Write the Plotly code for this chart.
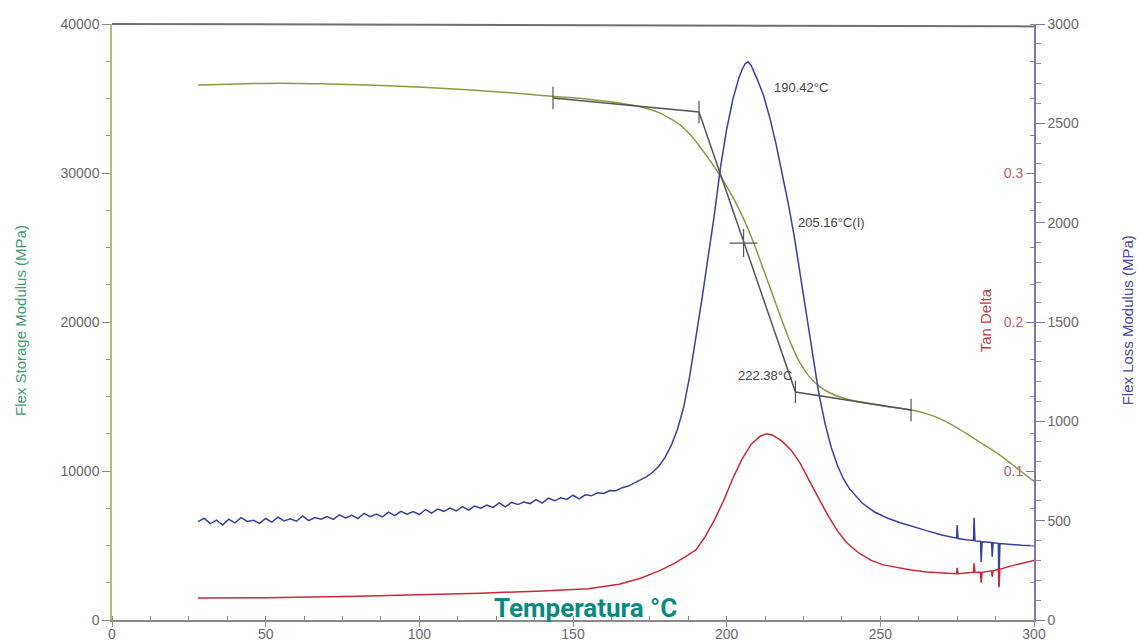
import plotly.graph_objects as go

# ---------------- data ----------------
storage_x = [28, 40, 55, 70, 90, 110, 130, 143, 155, 165, 172, 178, 182, 185, 188, 191, 194,
             197, 200, 203, 206, 209, 212, 215, 218, 221, 224, 227, 230, 234, 240, 250, 260,
             265, 270, 275, 280, 285, 290, 295, 300]
storage_y = [35900, 35980, 36030, 35980, 35850, 35650, 35380, 35150, 34950, 34700, 34450,
             34050, 33600, 33200, 32600, 31850, 31000, 30100, 29100, 28000, 26700, 25200,
             23500, 21800, 20100, 18500, 17200, 16300, 15700, 15200, 14780, 14400, 14100,
             13850, 13450, 12900, 12250, 11600, 10900, 10100, 9300]

loss_x = [28, 30, 32, 34, 36, 38, 40, 42, 44, 46, 48, 50, 52, 54, 56, 58, 60, 62, 64, 66, 68,
          70, 72, 74, 76, 78, 80, 82, 84, 86, 88, 90, 92, 94, 96, 98, 100, 102, 104, 106, 108,
          110, 112, 114, 116, 118, 120, 122, 124, 126, 128, 130, 132, 134, 136, 138, 140, 142,
          144, 146, 148, 150, 152, 154, 156, 158, 160, 162, 164, 166, 168, 170, 172, 174, 176,
          178, 180, 182, 184, 186, 188, 190, 192, 194, 196, 198, 200, 202, 204, 205, 206, 207,
          208, 210, 212, 214, 216, 218, 220, 222, 224, 226, 228, 230, 232, 234, 236, 238, 240,
          244, 248, 252, 256, 260, 265, 270, 274.8, 275, 275.3, 278, 280.3, 280.5, 280.8,
          282.6, 282.8, 283.1, 286.2, 286.4, 286.7, 288.4, 288.6, 288.9, 292, 296, 300]
loss_y = [495, 512, 485, 503, 478, 507, 489, 515, 496, 502, 486, 511, 493, 518, 499, 509, 497,
          524, 500, 516, 507, 521, 506, 529, 514, 527, 511, 537, 520, 533, 519, 543, 525, 547,
          533, 546, 531, 556, 538, 558, 547, 563, 549, 571, 553, 574, 563, 578, 567, 589, 569,
          592, 581, 594, 586, 606, 588, 613, 600, 615, 607, 628, 610, 630, 625, 640, 637, 652,
          651, 666, 674, 690, 705, 722, 745, 775, 820, 880, 960, 1070, 1230, 1420, 1620, 1830,
          2040, 2280, 2470, 2620, 2730, 2770, 2800, 2810, 2790, 2720, 2640, 2530, 2400, 2250,
          2100, 1930, 1730, 1520, 1320, 1140, 990, 870, 780, 710, 660, 590, 545, 515, 492, 475,
          450, 428, 412, 478, 410, 404, 400, 515, 398, 395, 292, 394, 390, 318, 389, 386, 170,
          385, 380, 376, 374]

tan_x = [28, 50, 80, 100, 120, 140, 155, 165, 172, 178, 183, 187, 190, 193, 196, 199, 202, 205,
         208, 211, 213, 215, 218, 221, 224, 227, 230, 233, 236, 239, 243, 247, 251, 256, 260,
         265, 270, 274.8, 275, 275.3, 280.3, 280.5, 280.8, 282.6, 282.8, 283.1, 286.2, 286.4,
         286.7, 288.4, 288.6, 288.9, 292, 296, 300]
tan_y = [0.0148, 0.0150, 0.0160, 0.0168, 0.0180, 0.0195, 0.021, 0.024, 0.028, 0.033, 0.038,
         0.043, 0.047, 0.056, 0.067, 0.080, 0.095, 0.108, 0.118, 0.1235, 0.125, 0.124, 0.120,
         0.114, 0.105, 0.093, 0.081, 0.070, 0.060, 0.052, 0.045, 0.040, 0.037, 0.035, 0.0335,
         0.0322, 0.0315, 0.031, 0.035, 0.031, 0.032, 0.038, 0.032, 0.032, 0.025, 0.032, 0.033,
         0.029, 0.033, 0.034, 0.022, 0.034, 0.036, 0.038, 0.040]

# onset / tangent construction on the storage curve
tangent_x = [143.5, 191, 222.38, 260]
tangent_y = [35030, 34090, 15300, 14090]
inflect_x = [205.5]
inflect_y = [25300]

label_texts = ["190.42°C", "205.16°C(I)", "222.38°C"]
label_x = [214.8, 222.6, 222.0]
label_y = [35750, 26650, 16400]

x_ticks = [0, 50, 100, 150, 200, 250, 300]
storage_ticks = [0, 10000, 20000, 30000, 40000]
loss_ticks = [0, 500, 1000, 1500, 2000, 2500, 3000]
tan_ticks = [0.1, 0.2, 0.3]

# ---------------- styling ----------------
GREEN = "#8a9a45"
BLUE = "#3a3f9e"
RED = "#c8283a"
GRAY_TXT = "#6a6a6a"
FONT = "Liberation Sans, Arial, sans-serif"

fig = go.Figure()

fig.add_trace(go.Scatter(x=storage_x, y=storage_y, mode="lines",
                         line=dict(color=GREEN, width=1.5, shape="spline"),
                         yaxis="y", showlegend=False))
fig.add_trace(go.Scatter(x=tangent_x, y=tangent_y, mode="lines+markers",
                         line=dict(color="#555555", width=1.5),
                         marker=dict(symbol="line-ns-open", size=16, color="#555555",
                                     line=dict(color="#555555", width=1.2)),
                         yaxis="y", showlegend=False))
fig.add_trace(go.Scatter(x=inflect_x, y=inflect_y, mode="markers",
                         marker=dict(symbol="cross-thin-open", size=20, color="#555555",
                                     line=dict(color="#555555", width=1.2)),
                         yaxis="y", showlegend=False))
fig.add_trace(go.Scatter(x=loss_x, y=loss_y, mode="lines",
                         line=dict(color=BLUE, width=1.5),
                         yaxis="y2", showlegend=False))
fig.add_trace(go.Scatter(x=tan_x, y=tan_y, mode="lines",
                         line=dict(color=RED, width=1.5),
                         yaxis="y3", showlegend=False))

annotations = []
for t, ax_, ay_ in zip(label_texts, label_x, label_y):
    annotations.append(dict(x=ax_, y=ay_, xref="x", yref="y", text=t, showarrow=False,
                            xanchor="left" if t != "222.38°C" else "right",
                            yanchor="middle",
                            font=dict(family=FONT, size=13, color="#444444")))

annotations += [
    dict(x=-0.1, y=0.503, xref="paper", yref="paper", text="Flex Storage Modulus (MPa)",
         textangle=-90, showarrow=False, xanchor="center", yanchor="middle",
         font=dict(family=FONT, size=15, color="#3f9a78")),
    dict(x=1.101, y=0.503, xref="paper", yref="paper", text="Flex Loss Modulus (MPa)",
         textangle=-90, showarrow=False, xanchor="center", yanchor="middle",
         font=dict(family=FONT, size=15, color="#4a4aa0")),
    dict(x=0.947, y=0.503, xref="paper", yref="paper", text="Tan Delta",
         textangle=-90, showarrow=False, xanchor="center", yanchor="middle",
         font=dict(family=FONT, size=15, color="#c04048")),
    dict(x=0.514, y=0.02, xref="paper", yref="paper", text="<b>Temperatura °C</b>",
         showarrow=False, xanchor="center", yanchor="middle",
         font=dict(family="Liberation Sans Narrow, Arial Narrow, Roboto, sans-serif",
                   size=26, color="#0a8a7a")),
]

fig.update_layout(
    width=1137, height=642,
    margin=dict(l=112, r=103, t=24, b=22, autoexpand=False),
    paper_bgcolor="white", plot_bgcolor="white",
    font=dict(family=FONT, size=14, color=GRAY_TXT),
    xaxis=dict(range=[0, 300.001], tickvals=x_ticks, ticktext=[str(v) for v in x_ticks],
               showgrid=False, zeroline=False, automargin=False,
               showline=True, linecolor="#8a8a8a", linewidth=1.5, mirror=False,
               ticks="outside", ticklen=5, tickcolor="#8a8a8a", ticklabelstandoff=-5,
               minor=dict(dtick=12.5, ticks="inside", ticklen=4, tickcolor="#8a8a8a"),
               tickfont=dict(family=FONT, size=14, color=GRAY_TXT)),
    yaxis=dict(range=[0, 40000], tickvals=storage_ticks,
               ticktext=[str(v) for v in storage_ticks], automargin=False,
               showgrid=False, zeroline=False,
               showline=True, linecolor="#b5bd70", linewidth=1.5,
               ticks="outside", ticklen=8, tickcolor="#8a8a8a",
               minor=dict(dtick=2500, ticks="outside", ticklen=4, tickcolor="#9a9a9a"),
               tickfont=dict(family=FONT, size=14, color=GRAY_TXT)),
    yaxis2=dict(range=[0, 3000], tickvals=loss_ticks, ticktext=[str(v) for v in loss_ticks],
                overlaying="y", side="right", automargin=False,
                anchor="x", showgrid=False, zeroline=False,
                showline=True, linecolor="#7a7ab0", linewidth=1.5,
                ticks="outside", ticklen=9, tickcolor="#7a7ab0",
                minor=dict(dtick=100, ticks="outside", ticklen=5, tickcolor="#8a8ab8"),
                tickfont=dict(family=FONT, size=14, color=GRAY_TXT)),
    yaxis3=dict(range=[0, 0.4], tickvals=tan_ticks, ticktext=[str(v) for v in tan_ticks],
                overlaying="y", side="left", automargin=False,
                anchor="free", position=1, showgrid=False, zeroline=False, showline=False,
                ticks="outside", ticklen=8, tickcolor="#7a7ab0",
                minor=dict(dtick=0.025, ticks="outside", ticklen=4, tickcolor="#8a8ab8"),
                tickfont=dict(family=FONT, size=14, color="#c06068")),
    annotations=annotations,
    shapes=[dict(type="line", xref="paper", yref="paper", x0=0, x1=1, y0=1.0, y1=0.996,
                 line=dict(color="#707070", width=2))],
)

fig.write_html("out.html")
